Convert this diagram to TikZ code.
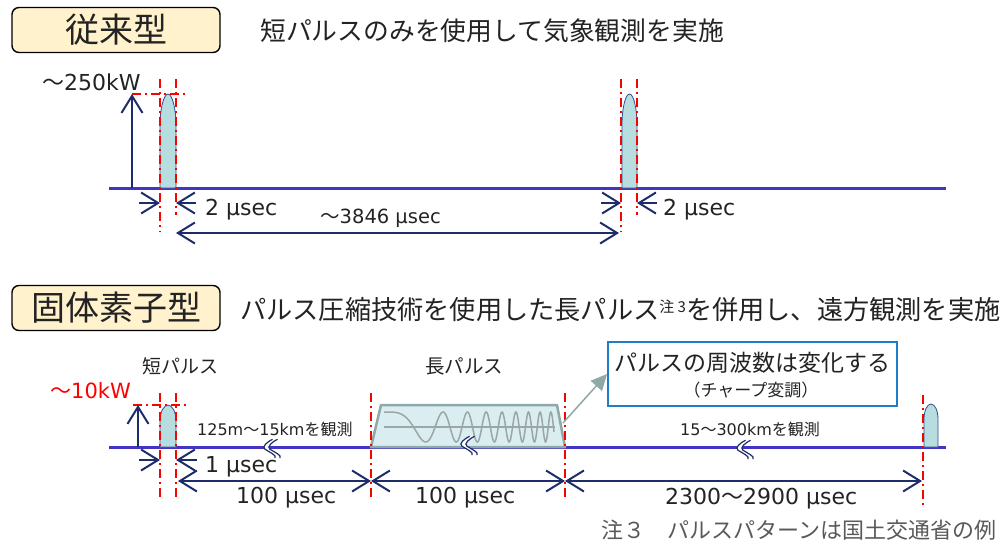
\documentclass[tikz,border=0pt]{standalone}
\usepackage{fontspec}
\setmainfont{DejaVu Sans}
\newfontfamily\jp{Noto Sans CJK JP}
\usetikzlibrary{arrows.meta}
\newcommand{\fsz}[1]{\fontsize{#1}{#1}\selectfont}

\definecolor{navy}{RGB}{30,45,105}
\definecolor{axisblue}{RGB}{68,52,196}
\definecolor{pulsefill}{RGB}{184,221,225}
\definecolor{pulseline}{RGB}{50,80,140}
\definecolor{titlefill}{RGB}{255,242,204}
\definecolor{lpline}{RGB}{143,168,168}
\definecolor{lpfill}{RGB}{218,237,240}
\definecolor{wavegray}{RGB}{155,166,166}
\definecolor{boxblue}{RGB}{30,125,200}
\definecolor{txtgray}{RGB}{35,35,35}

\begin{document}
\begin{tikzpicture}[x=1pt,y=-1pt,
	titlebox/.style={draw=black,line width=1.4pt,fill=titlefill,rounded corners=7pt,minimum width=208pt,minimum height=45pt,inner sep=0pt,font=\jp\fsz{34},text=txtgray},
	redline/.style={red,line width=2.2pt,dash pattern=on 9pt off 4pt on 2pt off 4pt},
	axis/.style={axisblue,line width=3pt},
	dim/.style={navy,line width=2pt,-{Straight Barb[length=17pt,width=21pt]}},
	ddim/.style={navy,line width=2pt,{Straight Barb[length=17pt,width=21pt]}-{Straight Barb[length=17pt,width=21pt]}},
	pulse/.style={fill=pulsefill,draw=pulseline,line width=0.8pt},
	lbl/.style={inner sep=0pt,anchor=base west,text=txtgray},
	brk/.pic={
		\fill[white] (2,-7) .. controls (-2,-5) and (-7,-1) .. (-4,1) .. controls (-1,3) and (6,6) .. (4,8) -- (8,8) .. controls (10,6) and (3,3) .. (0,1) .. controls (-3,-1) and (2,-5) .. (6,-7) -- cycle;
		\draw[navy,line width=1.2pt] (2,-7) .. controls (-2,-5) and (-7,-1) .. (-4,1) .. controls (-1,3) and (6,6) .. (4,8);
		\draw[navy,line width=1.2pt] (6,-7) .. controls (2,-5) and (-3,-1) .. (0,1) .. controls (3,3) and (10,6) .. (8,8);
	}]
	\useasboundingbox (0,0) rectangle (1002,544);

	%titles
	\node[titlebox] (old) at (116,30) {従来型};
	\node[inner sep=0pt,anchor=west,font=\jp\fsz{25.8},text=txtgray] (oldtxt) at (260,31) {短パルスのみを使用して気象観測を実施};
	\node[titlebox] (new) at (116,308) {固体素子型};
	\node[inner sep=0pt,anchor=west,font=\jp\fsz{26.2},text=txtgray] (newtxt) at (240,310) {パルス圧縮技術を使用した長パルス\raisebox{7pt}{\fsz{15}注 3}を併用し、遠方観測を実施};

	%coordinates
	\coordinate (p0) at (132,188);  \coordinate (p1) at (132,94);
	\coordinate (u1) at (139,203);  \coordinate (u2) at (160,203);
	\coordinate (u3) at (196,203);  \coordinate (u4) at (176,203);
	\coordinate (u5) at (601,203);  \coordinate (u6) at (621,203);
	\coordinate (u7) at (657,203);  \coordinate (u8) at (637,203);
	\coordinate (u9) at (176,233);  \coordinate (u10) at (619,233);
	\coordinate (q0) at (138,447);  \coordinate (q1) at (138,405);
	\coordinate (v1) at (139,460);  \coordinate (v2) at (160,460);
	\coordinate (v3) at (197,460);  \coordinate (v4) at (176,460);
	\coordinate (w0) at (178,481);  \coordinate (w1) at (371,481);
	\coordinate (w2) at (565,481);  \coordinate (w3) at (922,481);
	\coordinate (lpr) at (563,423);

	%time axes
	\draw[axis] (109,188) -- (946,188);
	\draw[axis] (109,447) -- (946,447);

	%short pulses
	\draw[pulse] (160,188) -- (160,125) .. controls (160,108) and (164,94) .. (168,94) .. controls (172,94) and (176,108) .. (176,125) -- (176,188) -- cycle;
	\draw[pulse] (622,188) -- (622,125) .. controls (622,108) and (625.5,94) .. (629.5,94) .. controls (633.5,94) and (637,108) .. (637,125) -- (637,188) -- cycle;
	\draw[pulse] (160,447) -- (160,420) .. controls (160,412) and (164,405) .. (168,405) .. controls (172,405) and (176,412) .. (176,420) -- (176,447) -- cycle;
	\draw[pulse] (924,447) -- (924,419) .. controls (924,411) and (927,404) .. (931,404) .. controls (935,404) and (938,411) .. (938,419) -- (938,447) -- cycle;

	%long pulse
	\draw[fill=lpfill,draw=lpline,line width=2.5pt,line join=round] (371,447) -- (381,405) -- (557,405) -- (565,447) -- cycle;
	\draw[wavegray,line width=1.2pt] (384,427) -- (555,427);
	\draw[wavegray,line width=1.5pt] plot[domain=0:170,samples=300,smooth] ({384+\x},{427-15*cos(360*(\x/59)^2)});

	%red guides
	\draw[redline] (160,79) -- (160,232);
	\draw[redline] (176,79) -- (176,215);
	\draw[redline] (621,79) -- (621,232);
	\draw[redline] (637,79) -- (637,215);
	\draw[redline] (132,94) -- (188,94);
	\draw[redline] (160,393) -- (160,497);
	\draw[redline] (176,393) -- (176,497);
	\draw[redline] (371,393) -- (371,497);
	\draw[redline] (565,393) -- (565,497);
	\draw[redline] (923,395) -- (923,506);
	\draw[redline] (133,405) -- (188,405);

	%arrows
	\draw[dim] (p0) -- (p1);
	\draw[dim] (u1) -- (u2);
	\draw[dim] (u3) -- (u4);
	\draw[dim] (u5) -- (u6);
	\draw[dim] (u7) -- (u8);
	\draw[ddim] (u9) -- (u10);
	\draw[dim] (q0) -- (q1);
	\draw[dim] (v1) -- (v2);
	\draw[dim] (v3) -- (v4);
	\draw[ddim] (w0) -- (w1);
	\draw[ddim] (w1) -- (w2);
	\draw[ddim] (w2) -- (w3);

	%breaks
	\pic[scale=1.25] at (270,448) {brk};
	\pic[scale=1.25] at (467,445) {brk};
	\pic[scale=1.25] at (743,449) {brk};

	%chirp box
	\node[draw=boxblue,line width=2pt,fill=white,minimum width=289pt,minimum height=64pt,inner sep=0pt] (chirp) at (752.5,374) {};
	\node[inner sep=0pt,font=\jp\fsz{23},text=txtgray] (chirpa) at (752,363) {パルスの周波数は変化する};
	\node[inner sep=0pt,font=\jp\fsz{17},text=txtgray] (chirpb) at (751,390) {（チャープ変調）};
	\draw[lpline,line width=1.5pt,-{Triangle[length=16pt,width=15pt]}] (lpr) -- (chirp.west);

	%labels
	\node[lbl,font=\fsz{22}] (pw1) at (42,90) {{\jp ～}250kW};
	\node[lbl,font=\fsz{22}] (d1) at (205,215) {2 μsec};
	\node[lbl,font=\fsz{22}] (d2) at (663,215) {2 μsec};
	\node[lbl,font=\fsz{19.5}] (d3) at (320,223) {{\jp ～}3846 μsec};
	\node[lbl,font=\fsz{21},text=red] (pw2) at (50,398) {{\jp ～}10kW};
	\node[inner sep=0pt,anchor=west,font=\jp\fsz{19},text=txtgray] (sp) at (142,366) {短パルス};
	\node[inner sep=0pt,anchor=west,font=\jp\fsz{19.5},text=txtgray] (lp) at (425,366) {長パルス};
	\node[lbl,font=\fsz{16}] (r1) at (197,435) {125m{\jp ～}15km{\jp を観測}};
	\node[lbl,font=\fsz{16}] (r2) at (680,435) {15{\jp ～}300km{\jp を観測}};
	\node[lbl,font=\fsz{22}] (d4) at (205,472) {1 μsec};
	\node[lbl,font=\fsz{22}] (d5) at (236,503) {100 μsec};
	\node[lbl,font=\fsz{22}] (d6) at (415,503) {100 μsec};
	\node[lbl,font=\fsz{22}] (d7) at (665,504) {2300{\jp ～}2900 μsec};
	\node[inner sep=0pt,anchor=west,font=\jp\fsz{22},text=black!65] (note) at (601,530) {注３　パルスパターンは国土交通省の例};
\end{tikzpicture}
\end{document}
